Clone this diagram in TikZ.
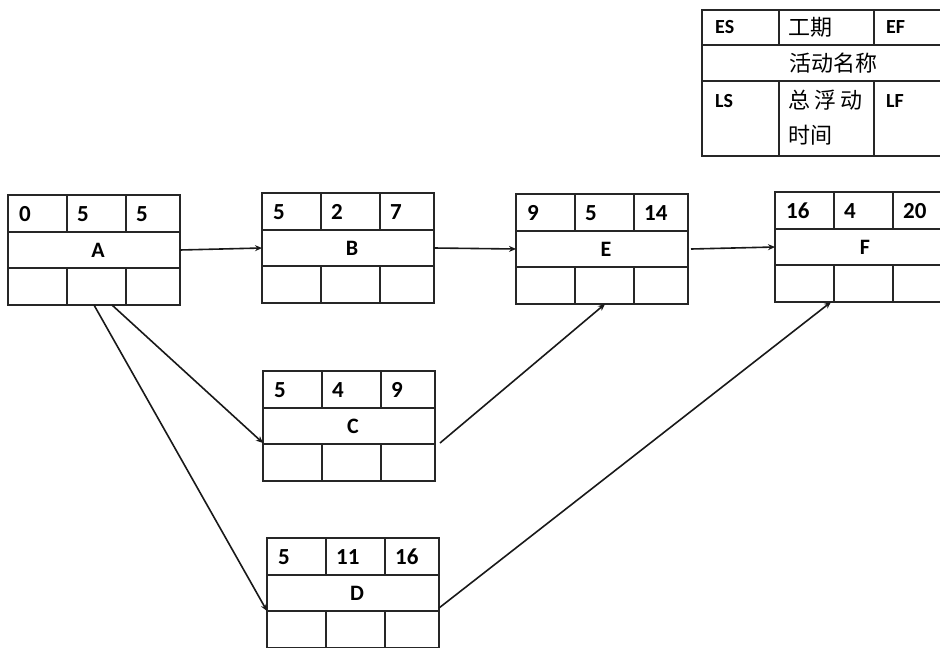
\documentclass[tikz,border=0pt]{standalone}
\usepackage{fontspec}
\setmainfont{Carlito}
\newfontfamily\cjk{Noto Sans CJK SC}
\usetikzlibrary{calc,arrows.meta}
\tikzset{
  boxnode/.style={draw=black!85, line width=1.6pt, minimum width=172pt, minimum height=110pt, inner sep=0pt, outer sep=0pt},
  cell/.style={draw=black!85, line width=1.6pt},
  num/.style={anchor=west, inner sep=0pt, font=\fontsize{23}{25}\selectfont\bfseries},
  lbl/.style={inner sep=0pt, font=\fontsize{22}{24}\selectfont\bfseries},
  leg/.style={anchor=west, inner sep=0pt, font=\fontsize{20}{22}\selectfont\bfseries},
  legc/.style={inner sep=0pt, font=\cjk\fontsize{22}{24}\selectfont},
  conn/.style={draw=black!90, line width=1.6pt, -{Stealth[length=7pt,width=6pt]}},
}
\newcommand\actbox[7]{%
  \node[boxnode, anchor=north west] (#1) at (#2,#3) {};
  \begin{scope}[shift={(#2,#3)}]
    \draw[cell] (0,37) -- (172,37) (0,73) -- (172,73)
      (59,0) -- (59,37) (118,0) -- (118,37)
      (59,73) -- (59,110) (118,73) -- (118,110);
    \node[num] at (11,19) {#4};
    \node[num] at (69,19) {#5};
    \node[num] at (128,19) {#6};
    \node[lbl] at (90,55) {#7};
  \end{scope}}
\begin{document}
\begin{tikzpicture}[x=1pt,y=-1pt]
\useasboundingbox[fill=white] (0,0) rectangle (940,648);
% legend
\node[draw=black!85, line width=1.6pt, minimum width=258pt, minimum height=146pt, inner sep=0pt, anchor=north west] (legend) at (701,9) {};
\draw[cell] (701,45) -- (959,45) (701,81) -- (959,81)
  (779,9) -- (779,45) (874,9) -- (874,45)
  (779,81) -- (779,155) (874,81) -- (874,155);
\node[leg] (les) at (715,27) {ES};
\node[legc, anchor=west] (lgq) at (788,27) {工期};
\node[leg] (lef) at (886,27) {EF};
\node[legc] (lname) at (833,63) {活动名称};
\node[leg] (lls) at (715,101) {LS};
\node[legc, anchor=west] (lzf) at (788,100) {总\hspace{0.2em}浮\hspace{0.2em}动};
\node[legc, anchor=west] (lsj) at (788,135) {时间};
\node[leg] (llf) at (886,101) {LF};
% activities
\actbox{A}{8}{195}{0}{5}{5}{A}
\actbox{B}{262}{193}{5}{2}{7}{B}
\actbox{E}{516}{194}{9}{5}{14}{E}
\actbox{F}{775}{192}{16}{4}{20}{F}
\actbox{C}{263}{371}{5}{4}{9}{C}
\actbox{D}{267}{538}{5}{11}{16}{D}
% connection points
\coordinate (aC) at ($(A.south west)+(104,0)$);
\coordinate (aD) at ($(A.south west)+(86,0)$);
\coordinate (cIn) at ($(C.north west)+(0,72)$);
\coordinate (dIn) at ($(D.north west)+(0,73)$);
\coordinate (cOut) at ($(C.north east)+(5,72)$);
\coordinate (dOut) at ($(D.north east)+(0,70)$);
\coordinate (eIn) at ($(E.south west)+(89,0)$);
\coordinate (fIn) at ($(F.south west)+(56,0)$);
% connectors
\draw[conn] (A.east) -- (B.west);
\draw[conn] (B.east) -- (E.west);
\draw[conn] ($(E.east)+(3,0)$) -- (F.west);
\draw[conn] (aC) -- (cIn);
\draw[conn] (aD) -- (dIn);
\draw[conn] (cOut) -- (eIn);
\draw[conn] (dOut) -- (fIn);
\end{tikzpicture}
\end{document}
